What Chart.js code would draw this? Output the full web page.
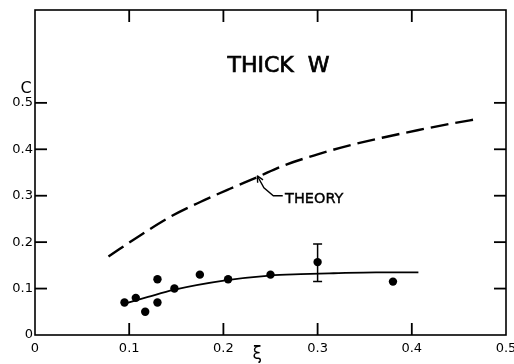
<!DOCTYPE html>
<html>
<head>
<meta charset="utf-8">
<script src="https://cdn.jsdelivr.net/npm/chart.js@4.4.0/dist/chart.umd.min.js"></script>
<style>
  body { margin: 0; background: #fff; }
</style>
</head>
<body>
<canvas id="grafico" width="514" height="364"></canvas>
<script>
// valores
const theoryX = [0.078, 0.112, 0.144, 0.176, 0.207, 0.236, 0.264, 0.30, 0.335, 0.371, 0.406, 0.441, 0.472];
const theoryC = [0.169, 0.215, 0.255, 0.287, 0.315, 0.340, 0.365, 0.389, 0.409, 0.426, 0.441, 0.455, 0.466];

const fitX = [0.094, 0.12, 0.147, 0.204, 0.249, 0.282, 0.317, 0.362, 0.407];
const fitC = [0.067, 0.082, 0.097, 0.118, 0.128, 0.131, 0.133, 0.135, 0.135];

const puntosX = [0.095, 0.107, 0.117, 0.13, 0.13, 0.148, 0.175, 0.205, 0.25, 0.30, 0.38];
const puntosC = [0.07, 0.08, 0.05, 0.12, 0.07, 0.10, 0.13, 0.12, 0.13, 0.157, 0.115];

const errorX = 0.30;
const errorBajo = 0.115;
const errorAlto = 0.196;

const ticksX = [0, 0.1, 0.2, 0.3, 0.4, 0.5];
const ticksY = [0, 0.1, 0.2, 0.3, 0.4, 0.5];

const titulo = 'THICK  W';
const etiquetaTeoria = 'THEORY';

const juntar = (xs, ys) => xs.map((x, i) => ({ x: x, y: ys[i] }));

// marco, marcas interiores, barra de error y textos
const extras = {
  id: 'extras',
  afterDraw(chart) {
    const ctx = chart.ctx;
    const a = chart.chartArea;
    const sx = chart.scales.x;
    const sy = chart.scales.y;
    ctx.save();
    ctx.setLineDash([]);
    ctx.strokeStyle = '#000';
    ctx.fillStyle = '#000';
    ctx.lineWidth = 1.6;
    ctx.strokeRect(a.left, a.top, a.right - a.left, a.bottom - a.top);

    const largo = 12;
    ticksX.slice(1, -1).forEach(v => {
      const px = sx.getPixelForValue(v);
      ctx.fillRect(px - 0.9, a.bottom - largo, 1.8, largo);
      ctx.fillRect(px - 0.9, a.top, 1.8, largo);
    });
    ticksY.slice(1).forEach(v => {
      const py = sy.getPixelForValue(v);
      ctx.fillRect(a.left, py - 0.9, largo, 1.8);
      ctx.fillRect(a.right - largo, py - 0.9, largo, 1.8);
    });

    // barra de error
    ctx.lineWidth = 1.5;
    const ex = sx.getPixelForValue(errorX);
    const y1 = sy.getPixelForValue(errorBajo);
    const y2 = sy.getPixelForValue(errorAlto);
    ctx.beginPath();
    ctx.moveTo(ex, y1); ctx.lineTo(ex, y2);
    ctx.moveTo(ex - 4.5, y1); ctx.lineTo(ex + 4.5, y1);
    ctx.moveTo(ex - 4.5, y2); ctx.lineTo(ex + 4.5, y2);
    ctx.stroke();

    // titulo
    ctx.font = '22px "DejaVu Sans"';
    ctx.textAlign = 'center';
    ctx.textBaseline = 'alphabetic';
    ctx.lineWidth = 0.7;
    const tx = sx.getPixelForValue(0.2585), ty = sy.getPixelForValue(0.567);
    ctx.fillText(titulo, tx, ty);
    ctx.strokeText(titulo, tx, ty);

    // etiqueta de la teoria con flecha
    ctx.font = '14.5px "DejaVu Sans"';
    ctx.textAlign = 'left';
    ctx.lineWidth = 0.4;
    const lx = sx.getPixelForValue(0.2655), ly = sy.getPixelForValue(0.285);
    ctx.fillText(etiquetaTeoria, lx, ly);
    ctx.strokeText(etiquetaTeoria, lx, ly);
    const p = (xv, yv) => [sx.getPixelForValue(xv), sy.getPixelForValue(yv)];
    const [ax0, ay0] = p(0.263, 0.30);
    const [ax1, ay1] = p(0.253, 0.30);
    const [ax2, ay2] = p(0.243, 0.317);
    const [ax3, ay3] = p(0.236, 0.343);
    ctx.lineWidth = 1.4;
    ctx.beginPath();
    ctx.moveTo(ax0, ay0); ctx.lineTo(ax1, ay1); ctx.lineTo(ax2, ay2); ctx.lineTo(ax3, ay3);
    ctx.stroke();
    const ang = Math.atan2(ay3 - ay2, ax3 - ax2);
    ctx.beginPath();
    ctx.moveTo(ax3, ay3);
    ctx.lineTo(ax3 - 7 * Math.cos(ang - 0.45), ay3 - 7 * Math.sin(ang - 0.45));
    ctx.moveTo(ax3, ay3);
    ctx.lineTo(ax3 - 7 * Math.cos(ang + 0.45), ay3 - 7 * Math.sin(ang + 0.45));
    ctx.stroke();

    // nombres de ejes
    ctx.font = '16px "DejaVu Sans"';
    ctx.textAlign = 'center';
    ctx.fillText('C', a.left - 9, sy.getPixelForValue(0.5) - 10);
    ctx.font = '17px "DejaVu Sans"';
    ctx.textBaseline = 'middle';
    ctx.fillText('ξ', sx.getPixelForValue(0.236), 355);
    ctx.restore();
  }
};

const fuenteTicks = { family: 'DejaVu Sans', size: 13 };

const ctxGrafico = document.getElementById('grafico').getContext('2d');
const grafico = new Chart(ctxGrafico, {
  type: 'scatter',
  data: {
    datasets: [
      {
        type: 'line',
        label: 'Theory',
        data: juntar(theoryX, theoryC),
        borderColor: '#000',
        borderWidth: 2.4,
        borderDash: [18, 7],
        pointRadius: 0,
        cubicInterpolationMode: 'monotone',
        fill: false
      },
      {
        type: 'line',
        label: 'Ajuste',
        data: juntar(fitX, fitC),
        borderColor: '#000',
        borderWidth: 1.8,
        pointRadius: 0,
        cubicInterpolationMode: 'monotone',
        fill: false
      },
      {
        label: 'Medidas',
        data: juntar(puntosX, puntosC),
        backgroundColor: '#000',
        borderColor: '#000',
        pointRadius: 4.2,
        pointBorderWidth: 0
      }
    ]
  },
  options: {
    responsive: false,
    animation: false,
    layout: { padding: { top: 10, right: 8, left: 0, bottom: 0 } },
    plugins: {
      legend: { display: false },
      tooltip: { enabled: false }
    },
    scales: {
      x: {
        type: 'linear',
        min: 0,
        max: 0.5,
        grid: { display: false, drawTicks: false },
        border: { display: false },
        afterBuildTicks: (scale) => { scale.ticks = ticksX.map(v => ({ value: v })); },
        afterFit: (scale) => { scale.height = 29; scale.paddingLeft = 0; scale.paddingRight = 0; },
        ticks: {
          color: '#000',
          padding: 6,
          maxRotation: 0,
          autoSkip: false,
          font: fuenteTicks,
          callback: (v) => v === 0 ? '0' : Number(v).toFixed(1)
        }
      },
      y: {
        type: 'linear',
        min: 0,
        max: 0.7,
        grid: { display: false, drawTicks: false },
        border: { display: false },
        afterBuildTicks: (scale) => { scale.ticks = ticksY.map(v => ({ value: v })); },
        afterFit: (scale) => { scale.width = 35; scale.paddingTop = 0; scale.paddingBottom = 0; },
        ticks: {
          color: '#000',
          padding: 2,
          autoSkip: false,
          font: fuenteTicks,
          callback: (v) => v === 0 ? '0' : Number(v).toFixed(1)
        }
      }
    }
  },
  plugins: [extras]
});
</script>
</body>
</html>
